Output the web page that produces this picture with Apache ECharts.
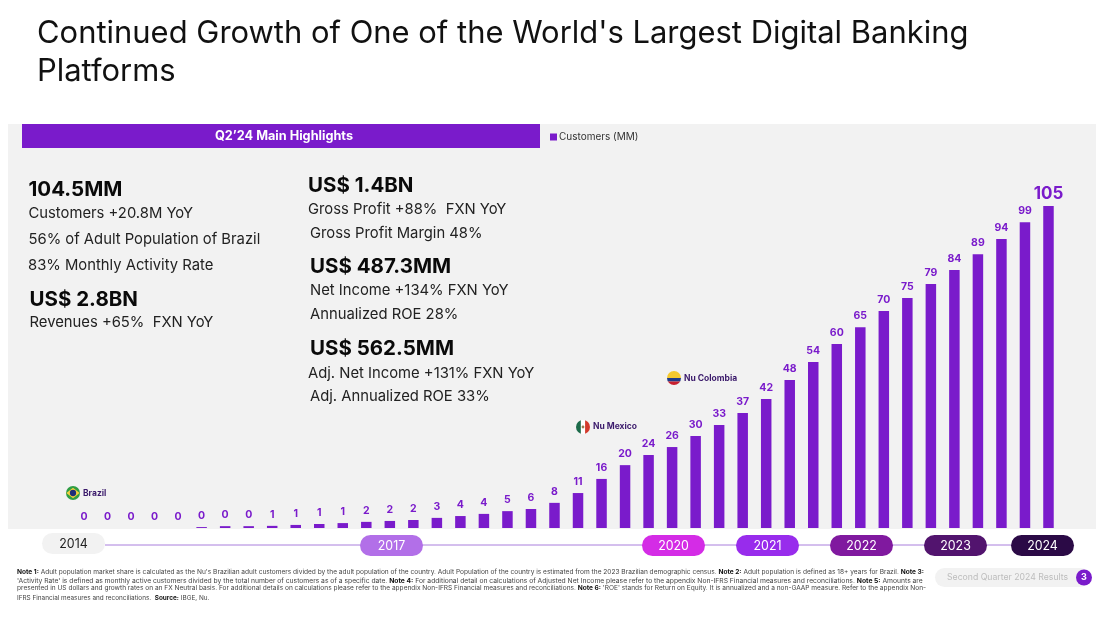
<!DOCTYPE html>
<html><head><meta charset="utf-8">
<style>html,body{margin:0;padding:0;background:#fff}#c{width:1096px;height:630px}</style>
<script src="https://cdn.jsdelivr.net/npm/echarts@6/dist/echarts.min.js"></script>
</head><body><div id="c"></div>
<script>
const quarters = [];
for (let y = 14; y <= 24; y++) for (let q = 1; q <= 4; q++) if (y < 24 || q <= 2) quarters.push("Q" + q + "'" + y);
const customers = [0,0,0,0,0,0.3,0.6,0.6,0.7,1,1.3,1.6,2,2.3,2.6,3.3,3.9,4.6,5.5,6.2,8.2,11.4,16,20.5,23.8,26.4,30,33.6,37.5,42.1,48.3,54.1,60,65.5,70.8,75,79.6,84.1,89.3,94.2,99.7,105];
const customerLabels = [0,0,0,0,0,0,0,0,1,1,1,1,2,2,2,3,4,4,5,6,8,11,16,20,24,26,30,33,37,42,48,54,60,65,70,75,79,84,89,94,99,105];
const years = ['2014','2017','2020','2021','2022','2023','2024'];
const yearColors = ['#f2f2f2','#b26fe8','#d42ce6','#982cec','#80199f','#52146e','#2b0a46'];
const titleLines = ["Continued Growth of One of the World's Largest Digital Banking","Platforms"];
const leftTexts = ['104.5MM','Customers +20.8M YoY','56% of Adult Population of Brazil','83% Monthly Activity Rate','US$ 2.8BN','Revenues +65%  FXN YoY'];
const rightTexts = ['US$ 1.4BN','Gross Profit +88%  FXN YoY','Gross Profit Margin 48%','US$ 487.3MM','Net Income +134% FXN YoY','Annualized ROE 28%','US$ 562.5MM','Adj. Net Income +131% FXN YoY','Adj. Annualized ROE 33%'];
const notes = [
 "{b|Note 1:} Adult population market share is calculated as the Nu's Brazilian adult customers divided by the adult population of the country. Adult Population of the country is estimated from the 2023 Brazilian demographic census. {b|Note 2:} Adult population is defined as 18+ years for Brazil. {b|Note 3:}",
 "'Activity Rate' is defined as monthly active customers divided by the total number of customers as of a specific date. {b|Note 4:} For additional detail on calculations of Adjusted Net Income please refer to the appendix Non-IFRS Financial measures and reconciliations. {b|Note 5:} Amounts are",
 "presented in US dollars and growth rates on an FX Neutral basis. For additional details on calculations please refer to the appendix Non-IFRS Financial measures and reconciliations. {b|Note 6:} 'ROE' stands for Return on Equity. It is annualized and a non-GAAP measure. Refer to the appendix Non-",
 "IFRS Financial measures and reconciliations.  {b|Source:} IBGE, Nu."
];
const FONT = 'Inter, "Noto Sans", sans-serif';
const PURPLE = '#7a1bcb';
const flagBR = '<svg xmlns="http://www.w3.org/2000/svg" viewBox="0 0 40 40"><circle cx="20" cy="20" r="20" fill="#2f9e44"/><path d="M1 20 20 5 39 20 20 35z" fill="#f4d03f"/><circle cx="20" cy="20" r="9" fill="#1f2f7a"/></svg>';
const flagMX = '<svg xmlns="http://www.w3.org/2000/svg" viewBox="0 0 40 40"><defs><clipPath id="a"><circle cx="20" cy="20" r="20"/></clipPath></defs><g clip-path="url(#a)"><rect width="14" height="40" fill="#1c6b4a"/><rect x="14" width="12" height="40" fill="#fff"/><rect x="26" width="14" height="40" fill="#d33a2c"/><circle cx="20" cy="20" r="4" fill="#9a7b4f"/></g></svg>';
const flagCO = '<svg xmlns="http://www.w3.org/2000/svg" viewBox="0 0 40 40"><defs><clipPath id="a"><circle cx="20" cy="20" r="20"/></clipPath></defs><g clip-path="url(#a)"><rect width="40" height="20" fill="#f5c92f"/><rect y="20" width="40" height="10" fill="#1f3a8a"/><rect y="30" width="40" height="10" fill="#c8202f"/></g></svg>';
const uri = s => 'data:image/svg+xml;charset=utf-8,' + encodeURIComponent(s);

const txt = (x, y, text, size, weight, fill, align, extra) => ({type:'text', x, y, z:10, style:Object.assign({text, fontSize:size, fontWeight:weight, fill, fontFamily:FONT, textAlign:align||'left', textVerticalAlign:'middle'}, extra||{})});

const g = [];
g.push({type:'rect', z:0, shape:{x:8,y:124,width:1088,height:405}, style:{fill:'#f2f2f2'}});
g.push({type:'rect', z:1, shape:{x:22,y:124,width:518,height:24}, style:{fill:PURPLE}});
g.push(txt(284,136.5,'Q2’24 Main Highlights',12.7,700,'#fff','center'));
const tY=[34,72]; titleLines.forEach((t,i)=>g.push(txt(37,tY[i],t,30.95,400,'#111')));
const H=20.5, B=14.8;
const lPos=[[28.5,190,H],[28.5,213.5,B],[28.5,239.5,B],[28,265.5,B],[29.5,300,H],[29.5,322.5,B]];
leftTexts.forEach((t,i)=>g.push(txt(lPos[i][0],lPos[i][1],t,lPos[i][2],lPos[i][2]>20?700:400,lPos[i][2]>20?'#0a0a0a':'#222')));
const rPos=[[308,186,H],[308,209.5,B],[310,233.5,B],[310,267,H],[310,290.5,B],[310,314.5,B],[310,349,H],[308,373.5,B],[310,396.5,B]];
rightTexts.forEach((t,i)=>g.push(txt(rPos[i][0],rPos[i][1],t,rPos[i][2],rPos[i][2]>20?700:400,rPos[i][2]>20?'#0a0a0a':'#222')));
// timeline
g.push({type:'line', z:1, shape:{x1:105,y1:545,x2:1011,y2:545}, style:{stroke:'#a97fdc',lineWidth:1}});
const pills=[[42,533],[360,535],[642,535],[736,535],[830,535],[924,535],[1011,535]];
years.forEach((y,i)=>{
  g.push({type:'rect', z:2, shape:{x:pills[i][0],y:pills[i][1],width:63,height:21,r:10.5}, style:{fill:yearColors[i]}});
  g.push(txt(pills[i][0]+31.5,pills[i][1]+11,y,12.4,400,i?'#fff':'#222','center'));
});
// flags
[[flagBR,66,486,14,'Brazil',83,493.5],[flagMX,576,420,14,'Nu Mexico',593,426.5],[flagCO,667,371,14,'Nu Colombia',684,378.5]].forEach(f=>{
  g.push({type:'image', z:5, style:{image:uri(f[0]),x:f[1],y:f[2],width:f[3],height:f[3]}});
  g.push(txt(f[5],f[6],f[4],8.5,700,'#3b1a6b'));
});
// notes
const nY=[572,580.5,588.5,598], nS=[6.57,6.74,6.57,6.4];
notes.forEach((n,i)=>g.push({type:'text',x:17,y:nY[i],z:10,style:{text:n,fontSize:nS[i],fontFamily:FONT,fill:'#444',textVerticalAlign:'middle',rich:{b:{fontSize:nS[i],fontWeight:700,fontFamily:FONT,fill:'#111'}}}}));
// page pill
g.push({type:'rect',z:2,shape:{x:935,y:568,width:155,height:19,r:9.5},style:{fill:'#f2f2f2'}});
g.push(txt(947,577.5,'Second Quarter 2024 Results',8.7,400,'#bdbdbd'));
g.push({type:'circle',z:3,shape:{cx:1084,cy:577.5,r:8},style:{fill:PURPLE}});
g.push(txt(1084,577.5,'3',9,700,'#fff','center'));

const chart = echarts.init(document.getElementById('c'),null,{renderer:'canvas'});
chart.setOption({
  animation:false,
  backgroundColor:'#fff',
  textStyle:{fontFamily:FONT},
  legend:{show:true,left:550,top:132,itemWidth:7,itemHeight:7,itemGap:2,icon:'rect',data:['Customers (MM)'],textStyle:{fontSize:10,color:'#333',fontFamily:FONT,padding:[0,0,0,-3]},padding:0},
  grid:{left:72.25,width:988,top:190.67,height:337.33,containLabel:false},
  xAxis:{type:'category',data:quarters,show:false},
  yAxis:{type:'value',min:0,max:110,show:false},
  series:[{
    name:'Customers (MM)',type:'bar',barWidth:10.5,z:5,itemStyle:{color:PURPLE},
    label:{show:true,position:'top',distance:6,fontSize:10.5,fontWeight:700,color:PURPLE,fontFamily:FONT,formatter:p=>customerLabels[p.dataIndex]},
    data:customers.map((v,i)=>i===customers.length-1?{value:v,label:{fontSize:17,distance:4}}:v)
  }],
  graphic:{elements:g}
});
</script></body></html>
